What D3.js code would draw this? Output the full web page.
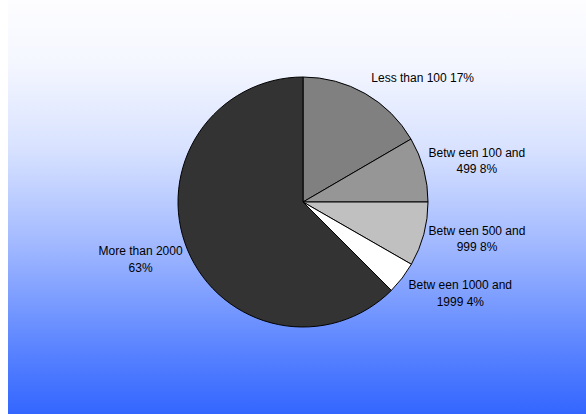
<!DOCTYPE html>
<html>
<head>
<meta charset="utf-8">
<script src="https://cdn.jsdelivr.net/npm/d3@7"></script>
<style>
  body { margin: 0; background: #fff; }
  svg { display: block; }
</style>
</head>
<body>
<div id="chart-area"></div>
<script>
var categories = ["Less than 100", "Betw een 100 and 499", "Betw een 500 and 999", "Betw een 1000 and 1999", "More than 2000"];
var shares = [16.6, 8.4, 8.3, 4.2, 62.5];
var sliceColors = ["#808080", "#969696", "#c0c0c0", "#ffffff", "#333333"];
// label lines as they wrap in the picture
var labelLines = [
  ["Less than 100 17%"],
  ["Betw een 100 and", "499 8%"],
  ["Betw een 500 and", "999 8%"],
  ["Betw een 1000 and", "1999 4%"],
  ["More than 2000", "63%"]
];

var width = 586, height = 414;
var cx = 303, cy = 202, radius = 125;

var svg = d3.select("#chart-area")
  .append("svg")
    .attr("width", width)
    .attr("height", height);

// background gradient, white at the top to blue at the bottom
var grad = svg.append("defs").append("linearGradient")
    .attr("id", "bg")
    .attr("x1", 0).attr("y1", 0).attr("x2", 0).attr("y2", 1);
var mix = d3.interpolateRgb("#ffffff", "#3366ff");
[[0, 0.01], [0.15, 0.05], [0.36, 0.19], [0.6, 0.47], [0.85, 0.82], [1, 1]].forEach(function(s) {
  grad.append("stop").attr("offset", s[0]).attr("stop-color", mix(s[1]));
});

svg.append("rect")
    .attr("x", 8)
    .attr("y", 0)
    .attr("width", width - 8)
    .attr("height", height)
    .style("fill", "url(#bg)");

var data = categories.map(function(c, i) {
  return {name: c, value: shares[i], color: sliceColors[i], lines: labelLines[i]};
});

var pie = d3.pie()
    .sort(null)
    .value(function(d) { return d.value; });

var arc = d3.arc().innerRadius(0).outerRadius(radius);
var labelArc = d3.arc().innerRadius(178).outerRadius(178);

var g = svg.append("g")
    .attr("transform", "translate(" + cx + "," + cy + ")");

var arcs = pie(data);

g.selectAll("path")
  .data(arcs)
  .enter()
  .append("path")
    .attr("d", arc)
    .style("fill", function(d) { return d.data.color; })
    .style("stroke", "#000")
    .style("stroke-width", 1);

// nudges so labels sit where the original layout put them
var nudge = [[31, 30], [2, 5], [2, -9], [16, -17], [2, -11]];
var lineGap = 16.5;

var labels = g.selectAll("text.lbl")
  .data(arcs)
  .enter()
  .append("text")
    .attr("class", "lbl")
    .attr("text-anchor", "middle")
    .style("font-family", "'Liberation Sans', Arial, sans-serif")
    .style("font-size", "12px")
    .style("fill", "#000");

labels.each(function(d, i) {
  var c = labelArc.centroid(d);
  var x = c[0] + nudge[i][0];
  var y = c[1] + nudge[i][1];
  var n = d.data.lines.length;
  var t = d3.select(this);
  d.data.lines.forEach(function(line, k) {
    t.append("tspan")
      .attr("x", x)
      .attr("y", y + 4.3 + (k - (n - 1) / 2) * lineGap)
      .text(line);
  });
});
</script>
</body>
</html>
